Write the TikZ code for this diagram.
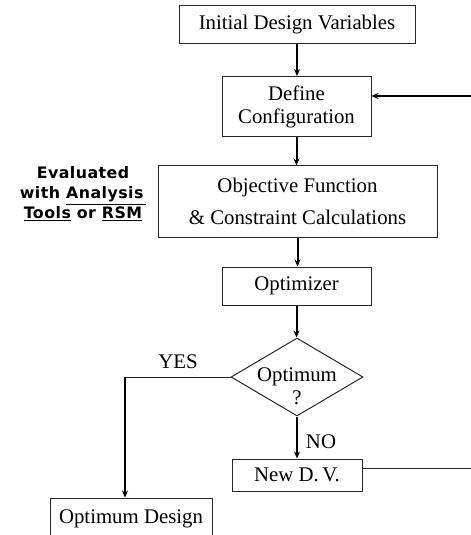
\documentclass[tikz,border=0pt]{standalone}
\usepackage{fontspec}
\setmainfont{Liberation Serif}
\newfontfamily\lblfont[LetterSpace=3]{DejaVu Sans}
\usetikzlibrary{shapes.geometric,arrows.meta}
\begin{document}
\begin{tikzpicture}[x=1bp,y=-1bp,
  box/.style={draw=black!85,line width=1bp,rectangle,inner sep=0pt,align=center,
              font=\fontsize{20.8bp}{23bp}\selectfont},
  txt/.style={inner sep=0pt,align=center,font=\fontsize{20.8bp}{23bp}\selectfont},
  thickarrow/.style={draw=black,line width=2bp,-{Stealth[length=7bp,width=6bp]}},
  thinline/.style={draw=black!85,line width=1bp}]
\useasboundingbox (0,0) rectangle (471,535);
% boxes
\node[box,minimum width=236bp,minimum height=38bp] (init) at (297,25) {Initial Design Variables};
\node[box,minimum width=149bp,minimum height=60bp] (define) at (296.5,106.5) {Define\\Configuration};
\node[box,minimum width=279bp,minimum height=71bp,font=\fontsize{20.8bp}{32bp}\selectfont] (obj) at (297.5,201.5) {Objective Function\\\& Constraint Calculations};
\node[box,minimum width=149bp,minimum height=38bp] (opt) at (296.5,286) {Optimizer};
\node[draw=black!85,line width=1bp,diamond,minimum width=132bp,minimum height=78bp,inner sep=0pt] (dec) at (297,377) {};
\node[txt] (dectext) at (297,386) {Optimum\\?};
\node[box,minimum width=130bp,minimum height=32bp] (newdv) at (297,475) {New D.\,V.};
\node[box,minimum width=162bp,minimum height=42bp] (optd) at (131,519) {Optimum Design};
% side label
\node[inner sep=0pt,align=center,font=\lblfont\bfseries\fontsize{15.8bp}{20bp}\selectfont] (eval) at (83,194)
  {Evaluated\\with \underline{Analysis\,}\\\underline{Tools} or \underline{RSM}};
% labels
\node[txt] (yes) at (178,362) {YES};
\node[txt] (no) at (321,442) {NO};
% connectors
\draw[thickarrow] (init.south) -- (init.south |- define.north);
\draw[thickarrow] (define.south) -- (define.south |- obj.north);
\draw[thickarrow] (obj.south) -- (obj.south |- opt.north);
\draw[thickarrow] (opt.south) -- (opt.south |- dec.north);
\draw[thickarrow] (dec.south) -- (dec.south |- newdv.north);
\coordinate (yc) at (125,377);
\draw[thinline] (dec.west) -- (yc);
\draw[thickarrow] (yc) -- (yc |- optd.north);
\coordinate (ndR) at (471,468);
\draw[thinline] (newdv.east |- ndR) -- (ndR);
\coordinate (fbR) at (471,96);
\draw[thickarrow] (fbR) -- (fbR -| define.east);
\end{tikzpicture}
\end{document}
